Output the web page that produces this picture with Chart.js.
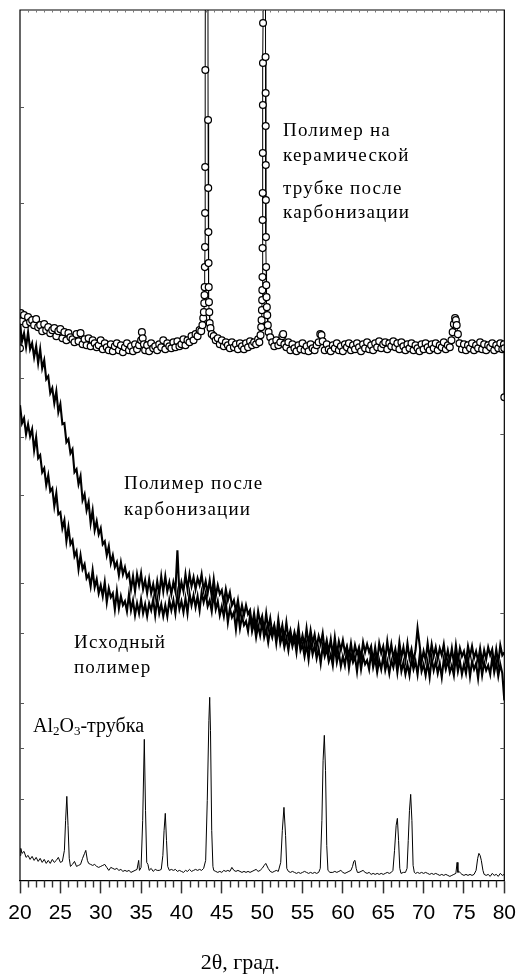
<!DOCTYPE html>
<html>
<head>
<meta charset="utf-8">
<script src="https://cdn.jsdelivr.net/npm/chart.js@4.4.1/dist/chart.umd.min.js"></script>
<style>
  html, body { margin: 0; padding: 0; background: #fff; }
  #wrap { position: relative; width: 523px; height: 976px; overflow: hidden; }
  #c { position: absolute; left: 0; top: 0; }
  .lbl { position: absolute; font-family: 'Liberation Serif', 'Times New Roman', serif; font-size: 19px; line-height: 24px; letter-spacing: 1.2px; color: #000; white-space: nowrap; }
  .al { letter-spacing: 0; font-size: 20px; }
  .al sub { font-size: 13px; vertical-align: -3px; line-height: 0; }
</style>
</head>
<body>
<div id="wrap">
  <canvas id="c" width="523" height="976"></canvas>
  <div class="lbl" style="left:283px;top:118px">Полимер на</div>
  <div class="lbl" style="left:283px;top:143px">керамической</div>
  <div class="lbl" style="left:283px;top:176px">трубке после</div>
  <div class="lbl" style="left:283px;top:200px">карбонизации</div>
  <div class="lbl" style="left:124px;top:471px">Полимер после</div>
  <div class="lbl" style="left:124px;top:497px">карбонизации</div>
  <div class="lbl" style="left:74px;top:630px">Исходный</div>
  <div class="lbl" style="left:74px;top:655px">полимер</div>
  <div class="lbl al" style="left:33px;top:713px">Al<sub>2</sub>O<sub>3</sub>-трубка</div>
</div>
<script>
// ---- axis ----
const xMin = 20, xMax = 80;
const xTickLabels = [20, 25, 30, 35, 40, 45, 50, 55, 60, 65, 70, 75, 80];
const xTitle = '2θ, град.';

// ---- polymer curves: sampled every 0.25 deg from 20 deg (arbitrary intensity units) ----
const polyStart = 20, polyStep = 0.25;
const rawPolymer = [
 475,457,462,446, 456,444,451,430, 443,422,425,408, 412,395,405,389,
 392,374,387,366, 368,352,360,339, 353,336,340,324, 329,311,325,311,
 316,302,306,294, 310,293,301,287, 295,284,298,278, 292,283,287,271,
 289,272,284,275, 279,269,286,270, 280,265,277,267, 281,267,276,264,
 277,270,281,265, 282,267,276,264, 275,264,280,270, 280,267,286,271,
 279,268,282,267, 287,275,285,273, 284,270,288,278, 287,274,280,269,
 287,271,279,265, 274,264,278,258, 272,263,268,251, 269,252,264,255,
 259,249,265,249, 258,243,255,245, 258,243,251,238, 251,243,253,237,
 253,237,245,233, 242,230,245,234, 242,228,246,230, 236,224,236,221,
 239,226,235,222, 232,217,234,224, 232,219,226,215, 234,218,228,214,
 224,215,230,212, 226,218,224,209, 227,211,224,216, 220,211,228,213,
 222,208,220,211, 224,210,219,207, 220,213,224,208, 224,209,218,206,
 216,205,221,211, 219,206,224,209, 216,205,218,203, 222,210,219,207,
 217,203,221,211, 220,208,215,205, 224,209,219,206, 216,207,222,204,
 219,211,217,202, 221,205,218,210, 215,206,223,208, 218,204,216,207,
 180
];
const carbPolymer = [
 556,539,547,533, 548,531,537,523, 534,517,531,512, 520,501,504,487,
 492,477,489,468, 476,456,457,438, 441,427,431,408, 411,396,404,380,
 386,370,378,357, 370,350,359,346, 352,336,339,325, 334,317,325,313,
 318,305,318,306, 313,303,307,291, 304,289,306,295, 307,291,300,287,
 301,287,296,284, 299,286,304,289, 304,289,298,286, 298,289,330,286,
 298,289,306,291, 306,294,303,291, 302,295,306,290, 299,287,300,284,
 301,284,295,286, 290,277,291,280, 288,275,280,269, 280,265,275,265,
 275,266,270,254, 267,252,269,257, 264,250,267,251, 262,247,255,242,
 261,245,255,241, 258,242,250,238, 248,239,253,235, 245,235,252,236,
 250,237,246,233, 244,236,247,230, 240,228,241,225, 243,226,239,230,
 240,228,234,224, 237,223,235,226, 233,222,238,228, 236,228,234,219,
 233,219,237,227, 234,221,239,224, 236,222,231,219, 238,223,233,220,
 237,222,231,219, 230,252,236,218, 229,220,237,222, 236,224,233,221,
 232,225,236,220, 230,219,232,217, 235,219,232,224, 229,218,234,224,
 234,222,229,219, 232,218,230,221, 233,225,231,216, 231,217,235,225,
 228
];

// ---- polymer on ceramic tube after carbonization: [2theta, intensity] ----
const cuOnTube = [
 [20,532],[20.1,567],[20.25,559],[20.5,565],[20.75,556],[21,563],[21.25,558],[21.5,560],[21.75,555],
 [22,561],[22.25,553],[22.5,555],[22.75,549],[23,556],[23.25,550],[23.5,553],[23.75,547],[24,550],
 [24.25,552],[24.5,544],[24.75,549],[25,551],[25.25,542],[25.5,548],[25.75,540],[26,547],[26.25,543],
 [26.5,541],[26.75,538],[27,546],[27.25,539],[27.5,547],[27.75,536],[28,541],[28.25,535],[28.5,542],
 [28.75,534],[29,540],[29.25,537],[29.5,533],[29.75,535],[30,540],[30.25,531],[30.5,537],[30.75,533],
 [31,530],[31.25,536],[31.5,529],[31.75,534],[32,537],[32.25,530],[32.5,535],[32.75,528],[33,533],
 [33.25,537],[33.5,530],[33.75,534],[34,529],[34.25,536],[34.5,531],[34.75,535],[35,540],[35.1,548],
 [35.2,542],[35.35,536],[35.5,530],[35.75,535],[36,529],[36.25,537],[36.5,532],[36.75,534],[37,530],
 [37.25,536],[37.5,533],[37.75,540],[38,531],[38.25,537],[38.5,534],[38.75,532],[39,538],[39.25,533],
 [39.5,539],[39.75,534],[40,536],[40.25,541],[40.5,535],[40.75,540],[41,538],[41.25,544],[41.5,540],
 [41.75,546],[42,544],[42.25,550],[42.45,549],[42.6,555],[42.7,562],[42.78,568],[42.83,577],[42.86,585],
 [42.88,593],[42.9,613],[42.92,633],[42.93,667],[42.94,713],[42.96,810],[43.15,2000],[43.3,760],
 [43.32,692],[43.34,648],[43.36,617],[43.38,593],[43.41,578],[43.45,568],[43.5,557],[43.6,552],
 [43.75,546],[44,544],[44.25,540],[44.5,542],[44.75,536],[45,540],[45.25,534],[45.5,538],[45.75,535],
 [46,532],[46.25,538],[46.5,533],[46.75,536],[47,531],[47.25,537],[47.5,534],[47.75,531],[48,537],
 [48.25,533],[48.5,539],[48.75,535],[49,538],[49.25,536],[49.5,541],[49.65,538],[49.8,545],[49.88,553],
 [49.93,560],[49.97,570],[50,580],[50.02,590],[50.04,603],[50.05,632],[50.06,660],[50.07,687],[50.08,727],
 [50.09,775],[50.1,817],[50.11,857],[50.27,2000],[50.42,823],[50.43,787],[50.44,754],[50.45,715],
 [50.46,680],[50.47,643],[50.49,613],[50.51,595],[50.54,583],[50.58,573],[50.63,565],[50.7,555],[50.8,548],
 [51,543],[51.25,538],[51.5,534],[51.75,540],[52,535],[52.25,538],[52.5,544],[52.6,546],[52.75,536],
 [53,533],[53.25,538],[53.5,530],[53.75,536],[54,532],[54.25,529],[54.5,535],[54.75,531],[55,537],
 [55.25,530],[55.5,534],[55.75,529],[56,536],[56.25,532],[56.5,530],[56.75,535],[57,538],[57.2,546],
 [57.35,545],[57.5,539],[57.75,530],[58,536],[58.25,531],[58.5,529],[58.75,535],[59,532],[59.25,537],
 [59.5,530],[59.75,534],[60,529],[60.25,536],[60.5,533],[60.75,537],[61,530],[61.25,535],[61.5,531],
 [61.75,537],[62,533],[62.25,529],[62.5,536],[62.75,532],[63,538],[63.25,531],[63.5,535],[63.75,530],
 [64,537],[64.25,533],[64.5,539],[64.75,532],[65,536],[65.25,538],[65.5,531],[65.75,537],[66,534],
 [66.25,539],[66.5,533],[66.75,537],[67,531],[67.25,538],[67.5,534],[67.75,530],[68,536],[68.25,532],
 [68.5,537],[68.75,530],[69,535],[69.25,532],[69.5,529],[69.75,536],[70,531],[70.25,537],[70.5,533],
 [70.75,530],[71,536],[71.25,532],[71.5,537],[71.75,530],[72,535],[72.25,533],[72.5,538],[72.75,531],
 [73,535],[73.25,533],[73.45,540],[73.6,548],[73.75,556],[73.9,562],[74,560],[74.1,555],[74.25,546],
 [74.45,537],[74.75,531],[75,536],[75.25,530],[75.5,535],[75.75,532],[76,537],[76.25,530],[76.5,535],
 [76.75,532],[77,538],[77.25,531],[77.5,536],[77.75,530],[78,535],[78.25,533],[78.5,537],[78.75,530],
 [79,535],[79.25,532],[79.5,537],[79.75,531],[79.95,536],[80,532],[80,483]
];

// ---- Al2O3 tube: [2theta, intensity] ----
const al2o3Tube = [
 [20,25],[20.1,32],[20.25,27],[20.5,29],[20.75,23],[21,25],[21.25,21],[21.5,24],[21.75,20],[22,23],
 [22.25,19],[22.5,22],[22.75,18],[23,21],[23.25,17],[23.5,20],[23.75,17],[24,21],[24.25,18],[24.5,20],
 [24.75,23],[25,18],[25.25,19],[25.5,30],[25.65,60],[25.8,84],[25.95,55],[26.1,22],[26.25,14],[26.5,16],
 [26.75,19],[27,14],[27.25,15],[27.5,16],[27.75,22],[28,27],[28.15,30],[28.35,20],[28.5,17],[28.75,16],
 [29,15],[29.25,16],[29.5,14],[29.75,13],[30,14],[30.25,15],[30.5,16],[30.75,13],[31,10],[31.25,13],
 [31.5,12],[31.75,11],[32,12],[32.25,10],[32.5,11],[32.75,9],[33,10],[33.25,9],[33.5,10],[33.75,8],
 [34,9],[34.25,10],[34.5,11],[34.7,20],[34.8,10],[35,13],[35.2,60],[35.4,141],[35.55,70],[35.7,18],
 [35.85,16],[36,10],[36.25,12],[36.5,9],[36.75,11],[37,10],[37.25,10],[37.5,11],[37.7,25],[37.85,50],
 [38,67],[38.15,40],[38.3,14],[38.5,10],[38.75,11],[39,10],[39.25,11],[39.5,9],[39.75,10],[40,9],
 [40.25,8],[40.5,10],[40.75,9],[41,11],[41.25,9],[41.5,10],[41.75,11],[42,10],[42.25,11],[42.5,10],
 [42.75,12],[43,20],[43.2,80],[43.4,160],[43.5,183],[43.6,150],[43.75,50],[43.9,14],[44,10],[44.25,9],
 [44.5,8],[44.75,9],[45,8],[45.25,10],[45.5,9],[45.75,10],[46,9],[46.25,13],[46.5,10],[46.75,9],
 [47,10],[47.25,9],[47.5,8],[47.75,9],[48,8],[48.25,9],[48.5,8],[48.75,9],[49,10],[49.25,11],
 [49.5,9],[49.75,10],[50,12],[50.25,15],[50.45,17],[50.75,12],[51,9],[51.25,8],[51.5,9],[51.75,10],
 [52,9],[52.3,18],[52.5,50],[52.7,73],[52.9,45],[53.05,12],[53.25,9],[53.5,8],[53.75,9],[54,8],
 [54.25,7],[54.5,8],[54.75,7],[55,8],[55.25,9],[55.5,8],[55.75,7],[56,8],[56.25,7],[56.5,8],
 [56.75,7],[57,8],[57.2,12],[57.4,60],[57.55,120],[57.7,145],[57.85,110],[58,35],[58.15,10],[58.4,8],
 [58.75,8],[59,9],[59.25,8],[59.5,9],[59.75,10],[60,8],[60.25,7],[60.5,8],[60.75,9],[61,10],
 [61.2,14],[61.35,19],[61.5,20],[61.65,12],[61.8,8],[62,8],[62.25,9],[62.5,10],[62.75,8],[63,7],
 [63.25,8],[63.5,6],[63.75,7],[64,6],[64.25,7],[64.5,6],[64.75,7],[65,6],[65.25,7],[65.5,8],
 [65.75,7],[66,8],[66.2,10],[66.4,30],[66.6,55],[66.75,62],[66.9,40],[67.05,12],[67.2,7],[67.5,8],
 [67.75,8],[67.95,12],[68.1,40],[68.25,70],[68.4,86],[68.55,60],[68.7,15],[68.85,8],[69,7],[69.25,8],
 [69.5,7],[69.75,8],[70,7],[70.25,8],[70.5,7],[70.75,6],[71,7],[71.25,6],[71.5,7],[71.75,6],
 [72,5],[72.25,6],[72.5,5],[72.75,6],[73,5],[73.25,4],[73.5,5],[73.75,6],[74,7],[74.15,18],
 [74.25,8],[74.4,9],[74.6,7],[74.75,6],[75,5],[75.25,6],[75.5,5],[75.75,6],[76,5],[76.25,6],
 [76.5,10],[76.7,22],[76.85,27],[77,25],[77.15,20],[77.35,10],[77.5,6],[77.75,5],[78,6],[78.25,4],
 [78.5,7],[78.75,5],[79,6],[79.25,4],[79.5,7],[79.75,5],[80,6]
];

// decorative inward frame ticks (in intensity units)
const leftFrameTicks = [773, 677, 502, 443, 385, 297, 247, 177, 132, 81];
const rightFrameTicks = [446, 267, 177, 132, 81];

const toXY = arr => arr.map(p => ({ x: p[0], y: p[1] }));
const polyXY = ys => ys.map((y, i) => ({ x: polyStart + i * polyStep, y }));

const framePlugin = {
  id: 'frame',
  afterDraw(chart) {
    const { ctx, chartArea: a, scales: { x, y } } = chart;
    ctx.save();
    ctx.strokeStyle = '#000';
    ctx.lineWidth = 1.2;
    ctx.beginPath();
    ctx.moveTo(a.left, a.bottom); ctx.lineTo(a.left, a.top);
    ctx.lineTo(a.right, a.top); ctx.lineTo(a.right, a.bottom);
    ctx.stroke();
    ctx.strokeStyle = '#333'; ctx.lineWidth = 1.4;
    ctx.beginPath();
    for (let v = xMin; v <= xMax; v++) {
      if (xTickLabels.includes(v)) continue;
      const px = Math.round(x.getPixelForValue(v)) + 0.5;
      ctx.moveTo(px, a.bottom); ctx.lineTo(px, a.bottom + 7);
    }
    ctx.stroke();
    ctx.strokeStyle = '#777'; ctx.lineWidth = 1;
    ctx.beginPath();
    for (let v = xMin + 1; v < xMax; v++) {
      const px = Math.round(x.getPixelForValue(v)) + 0.5;
      ctx.moveTo(px, a.top); ctx.lineTo(px, a.top + 2.5);
    }
    ctx.stroke();
    ctx.strokeStyle = '#555'; ctx.lineWidth = 1;
    ctx.beginPath();
    leftFrameTicks.forEach(v => { const py = Math.round(y.getPixelForValue(v)) + 0.5; ctx.moveTo(a.left, py); ctx.lineTo(a.left + 4, py); });
    rightFrameTicks.forEach(v => { const py = Math.round(y.getPixelForValue(v)) + 0.5; ctx.moveTo(a.right, py); ctx.lineTo(a.right - 4, py); });
    ctx.stroke();
    ctx.restore();
  }
};

new Chart(document.getElementById('c').getContext('2d'), {
  type: 'line',
  data: {
    datasets: [
      { label: 'Al2O3-трубка', data: toXY(al2o3Tube), borderColor: '#000', borderWidth: 1, pointRadius: 0, tension: 0 },
      { label: 'Исходный полимер', data: polyXY(rawPolymer), borderColor: '#000', borderWidth: 2.1, pointRadius: 0, tension: 0 },
      { label: 'Полимер после карбонизации', data: polyXY(carbPolymer), borderColor: '#000', borderWidth: 2.1, pointRadius: 0, tension: 0 },
      { label: 'Полимер на керамической трубке после карбонизации', data: toXY(cuOnTube), borderColor: '#000', borderWidth: 1,
        pointRadius: 3.4, pointBackgroundColor: '#fff', pointBorderColor: '#000', pointBorderWidth: 1.25, tension: 0 }
    ]
  },
  options: {
    responsive: false,
    animation: false,
    devicePixelRatio: 1,
    layout: { padding: { left: 20, right: 17, top: 10, bottom: 0 } },
    plugins: { legend: { display: false }, tooltip: { enabled: false } },
    scales: {
      x: {
        type: 'linear', min: xMin, max: xMax,
        border: { display: true, color: '#000', width: 1.2 },
        grid: {
          display: true, drawOnChartArea: false, drawTicks: true, tickLength: 13, tickWidth: 1.5,
          tickColor: c => (c.tick && xTickLabels.includes(c.tick.value)) ? '#333' : 'rgba(0,0,0,0)'
        },
        ticks: {
          stepSize: 1, autoSkip: false, maxRotation: 0, padding: 7, color: '#000',
          font: { family: 'Liberation Sans', size: 21 },
          callback: v => xTickLabels.includes(v) ? String(v) : ''
        },
        title: {
          display: true, text: xTitle + '        ', color: '#000',
          font: { family: 'Liberation Serif', size: 22 }, padding: { top: 17, bottom: 0 }
        }
      },
      y: { display: false, min: 0, max: 870 }
    }
  },
  plugins: [framePlugin]
});
</script>
</body>
</html>
